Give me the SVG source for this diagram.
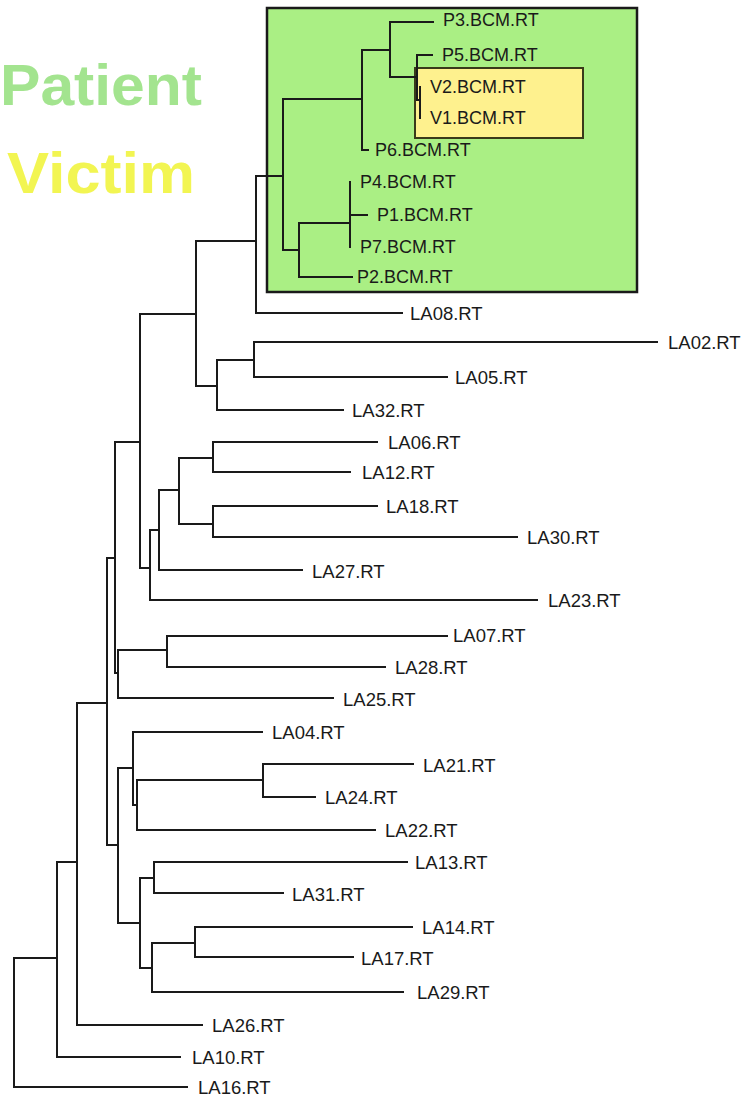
<svg xmlns="http://www.w3.org/2000/svg" width="744" height="1097" viewBox="0 0 744 1097">
<style>
.lbl{font-family:"Liberation Sans",Arial,sans-serif;font-size:18.5px;fill:#1a1a1a}
.pl{font-family:"Liberation Sans",Arial,sans-serif;font-size:18px;fill:#1a1a1a}
.br{fill:none;stroke:#1a1a1a;stroke-width:2;stroke-linecap:square}
.leg{font-family:"Liberation Sans",Arial,sans-serif;font-weight:bold;font-size:58px}
</style>
<rect width="744" height="1097" fill="#ffffff"/>
<g id="legend">
<text class="leg" x="0" y="105" fill="#a3e48f" textLength="202" lengthAdjust="spacingAndGlyphs">Patient</text>
<text class="leg" x="7" y="193" fill="#f2f552" textLength="188" lengthAdjust="spacingAndGlyphs">Victim</text>
</g>
<g id="patient-box"><rect x="267" y="8" width="370" height="284" fill="#aaef84" stroke="#1a1a1a" stroke-width="2.5"/></g>
<g id="victim-box"><rect x="415" y="68" width="168" height="70" fill="#fef18e" stroke="#3a3a1a" stroke-width="2"/></g>
<g id="connectors" class="br">
<path class="br" d="M14 958V1087M14 958H57M14 1087H187"/>
<path class="br" d="M57 862V1057M57 862H77M57 1057H180"/>
<path class="br" d="M77 703V1025M77 703H107M77 1025H202"/>
<path class="br" d="M107 558V845M107 558H115M107 845H118"/>
<path class="br" d="M115 442V673M115 442H140M115 673H118"/>
<path class="br" d="M140 314V568M140 314H196M140 568H150"/>
<path class="br" d="M196 241V386M196 241H256M196 386H217"/>
<path class="br" d="M256 176V313M256 176H283M256 313H402"/>
<path class="br" d="M217 360V410M217 360H254M217 410H343"/>
<path class="br" d="M254 342V377M254 342H657M254 377H447"/>
<path class="br" d="M150 530V600M150 530H159M150 600H537"/>
<path class="br" d="M159 490V570M159 490H179M159 570H302"/>
<path class="br" d="M179 458V524M179 458H213M179 524H213"/>
<path class="br" d="M213 442V472M213 442H377M213 472H350"/>
<path class="br" d="M213 506V537M213 506H377M213 537H517"/>
<path class="br" d="M118 650V698M118 650H167M118 698H333"/>
<path class="br" d="M167 636V667M167 636H447M167 667H385"/>
<path class="br" d="M118 768V923M118 768H133M118 923H140"/>
<path class="br" d="M133 732V805M133 732H262M133 805H137"/>
<path class="br" d="M137 780V830M137 780H263M137 830H375"/>
<path class="br" d="M263 764V797M263 764H413M263 797H315"/>
<path class="br" d="M140 878V968M140 878H154M140 968H152"/>
<path class="br" d="M154 862V893M154 862H407M154 893H283"/>
<path class="br" d="M152 943V992M152 943H195M152 992H403"/>
<path class="br" d="M195 927V957M195 927H412M195 957H353"/>
<path class="br" d="M283 99V250M283 99H362M283 250H299"/>
<path class="br" d="M362 50V150M362 50H390M362 150H368"/>
<path class="br" d="M390 22V77M390 22H433M390 77H417"/>
<path class="br" d="M417 55V100M417 55H432M417 100H420"/>
<path class="br" d="M420 87V118" stroke-width="3"/>
<path class="br" d="M299 223V277M299 223H350M299 277H352"/>
<path class="br" d="M350 182V247M350 215H367"/>
</g>
<g id="P3"><text class="pl" x="443" y="26">P3.BCM.RT</text></g>
<g id="P5"><text class="pl" x="442" y="61">P5.BCM.RT</text></g>
<g id="V2"><text class="pl" x="430" y="93">V2.BCM.RT</text></g>
<g id="V1"><text class="pl" x="430" y="124">V1.BCM.RT</text></g>
<g id="P6"><text class="pl" x="375" y="156">P6.BCM.RT</text></g>
<g id="P4"><text class="pl" x="360" y="188">P4.BCM.RT</text></g>
<g id="P1"><text class="pl" x="377" y="221">P1.BCM.RT</text></g>
<g id="P7"><text class="pl" x="360" y="253">P7.BCM.RT</text></g>
<g id="P2"><text class="pl" x="357" y="283">P2.BCM.RT</text></g>
<g id="LA08"><text class="lbl" x="410" y="320">LA08.RT</text></g>
<g id="LA02"><text class="lbl" x="668" y="349">LA02.RT</text></g>
<g id="LA05"><text class="lbl" x="455" y="384">LA05.RT</text></g>
<g id="LA32"><text class="lbl" x="352" y="417">LA32.RT</text></g>
<g id="LA06"><text class="lbl" x="388" y="449">LA06.RT</text></g>
<g id="LA12"><text class="lbl" x="362" y="479">LA12.RT</text></g>
<g id="LA18"><text class="lbl" x="386" y="513">LA18.RT</text></g>
<g id="LA30"><text class="lbl" x="527" y="544">LA30.RT</text></g>
<g id="LA27"><text class="lbl" x="312" y="578">LA27.RT</text></g>
<g id="LA23"><text class="lbl" x="548" y="607">LA23.RT</text></g>
<g id="LA07"><text class="lbl" x="453" y="642">LA07.RT</text></g>
<g id="LA28"><text class="lbl" x="395" y="674">LA28.RT</text></g>
<g id="LA25"><text class="lbl" x="343" y="706">LA25.RT</text></g>
<g id="LA04"><text class="lbl" x="272" y="739">LA04.RT</text></g>
<g id="LA21"><text class="lbl" x="423" y="772">LA21.RT</text></g>
<g id="LA24"><text class="lbl" x="325" y="804">LA24.RT</text></g>
<g id="LA22"><text class="lbl" x="385" y="837">LA22.RT</text></g>
<g id="LA13"><text class="lbl" x="415" y="869">LA13.RT</text></g>
<g id="LA31"><text class="lbl" x="292" y="901">LA31.RT</text></g>
<g id="LA14"><text class="lbl" x="422" y="934">LA14.RT</text></g>
<g id="LA17"><text class="lbl" x="361" y="965">LA17.RT</text></g>
<g id="LA29"><text class="lbl" x="417" y="999">LA29.RT</text></g>
<g id="LA26"><text class="lbl" x="212" y="1032">LA26.RT</text></g>
<g id="LA10"><text class="lbl" x="192" y="1064">LA10.RT</text></g>
<g id="LA16"><text class="lbl" x="198" y="1094">LA16.RT</text></g>
</svg>
